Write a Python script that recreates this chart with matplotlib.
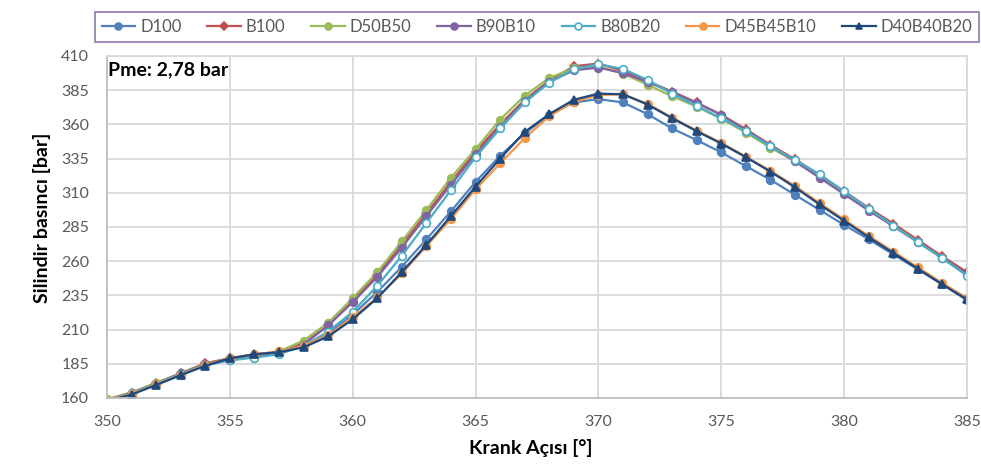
import matplotlib
matplotlib.use('Agg')
import matplotlib.pyplot as plt
import numpy as np

plt.rcParams['font.family'] = ['Lato', 'DejaVu Sans']

# crank angle [deg]
crank = np.arange(350, 386)

d100 = [158.5, 163, 170, 177, 184, 188, 191.5, 193, 198, 207, 221, 237.5, 256, 276, 296.5, 318,
        337, 353.5, 367, 376, 378.5, 376, 367.5, 357, 348.5, 339.5, 329.5, 319.5, 308.5, 297.5,
        286.5, 276, 265, 254, 243, 231.5]
b100 = [159, 164, 171, 178, 185.5, 189, 191.5, 193.5, 200, 213, 231, 250, 272, 295, 318, 340,
        360, 378, 392, 402.5, 404.5, 399, 391.5, 384, 376, 367, 356.5, 345, 334.5, 323,
        311, 299, 287.5, 275.5, 263.5, 252]
d50b50 = [159, 164, 171, 178, 185, 189, 189.5, 194, 202, 215, 233, 252, 274.5, 297.5, 321, 342,
          363.5, 381, 394, 401, 402.5, 397, 389, 380.5, 373, 364, 354, 343, 333, 321.5,
          309.5, 298, 286, 274, 262.5, 250]
b90b10 = [158.5, 163.5, 170.5, 178, 184.5, 189, 191, 193.5, 199, 213, 230, 248.5, 270, 293, 316, 338,
          358, 377, 391, 399.5, 401.5, 397.5, 391, 383.5, 375.5, 367, 355.5, 344.5, 333, 321,
          309, 297, 285.5, 274, 262.5, 250.5]
b80b20 = [158.5, 163.5, 170.5, 177.5, 184, 187.5, 189.5, 192, 198, 208.5, 223, 242, 264, 288, 312, 336,
          357, 376, 390.5, 400.5, 404, 400.5, 392.5, 382.5, 373.5, 364.5, 355, 344, 334, 323.5,
          311, 298.5, 286, 274, 262, 249.5]
d45b45b10 = [158.5, 163, 170, 177, 184, 189, 192, 194, 198, 206, 219, 233.5, 251, 271, 291, 312.5,
             331.5, 350, 366, 376.5, 381.5, 382, 375, 365, 355.5, 346.5, 336.5, 326, 315, 302.5,
             290.5, 278.5, 267, 255.5, 244, 233]
d40b40b20 = [158, 162.5, 169.5, 176.7, 183.5, 189, 192, 193.5, 197, 205, 217.5, 233, 252, 272, 293, 314.5,
             335, 354.5, 367.5, 378, 382.5, 382, 374.5, 364.5, 355, 346, 336, 325.5, 314, 301.5,
             289.5, 277.5, 266, 254.5, 243, 232]

series = [
    ('D100', d100, '#4F81BD', 'o'),
    ('B100', b100, '#C0504D', 'D'),
    ('D50B50', d50b50, '#9BBB59', 'o'),
    ('B90B10', b90b10, '#8064A2', 'o'),
    ('B80B20', b80b20, '#4BACC6', 'o'),
    ('D45B45B10', d45b45b10, '#F79646', 'o'),
    ('D40B40B20', d40b40b20, '#1F497D', '^'),
]

fig = plt.figure(figsize=(9.81, 4.72), dpi=100)
ax = fig.add_axes([0.1091, 0.1568, 0.8766, 0.7246])

for name, vals, color, marker in series:
    ms = 4.5 if marker == 'D' else 5.5
    mfc = 'white' if name == 'B80B20' else color
    ax.plot(crank, vals, color=color, linewidth=1.6, marker=marker, markersize=ms,
            markerfacecolor=mfc, markeredgecolor=color, markeredgewidth=1.2,
            label=name)

ax.set_xlim(350, 385)
ax.set_ylim(160, 410)
ax.set_xticks(np.arange(350, 386, 5))
ax.set_yticks(np.arange(160, 411, 25))
ax.tick_params(length=0, labelsize=11.5, labelcolor='#595959')
ax.tick_params(axis='x', pad=12)
ax.tick_params(axis='y', pad=13)
ax.grid(color='#D9D9D9', linewidth=1.3)
ax.set_axisbelow(True)
for s in ax.spines.values():
    s.set_color('#D9D9D9')
    s.set_linewidth(1.3)
ax.spines['left'].set_color('#BFBFBF')
ax.spines['bottom'].set_color('#BFBFBF')

ax.set_xlabel('Krank Açısı [°]', fontsize=14, fontweight='bold', va='center')
ax.xaxis.set_label_coords(0.493, -0.146)
ax.set_ylabel('Silindir basıncı [bar]', fontsize=14, fontweight='bold', va='center')
ax.yaxis.set_label_coords(-0.0756, 0.528)

ax.text(0.001, 0.985, 'Pme: 2,78 bar', transform=ax.transAxes, ha='left', va='top',
        fontsize=14, fontweight='bold', color='black')

leg = fig.legend(loc='center', ncol=7, mode='expand', fontsize=12,
                 bbox_to_anchor=(95 / 981, 1 - 41 / 472, (979 - 95) / 981, 28 / 472),
                 handlelength=2.0, handletextpad=0.3, borderaxespad=0, fancybox=False,
                 markerscale=0.9, frameon=True)
leg.get_frame().set_edgecolor('#8064A2')
leg.get_frame().set_linewidth(1.3)
for t in leg.get_texts():
    t.set_color('#595959')

fig.savefig('out.png', dpi=100)
